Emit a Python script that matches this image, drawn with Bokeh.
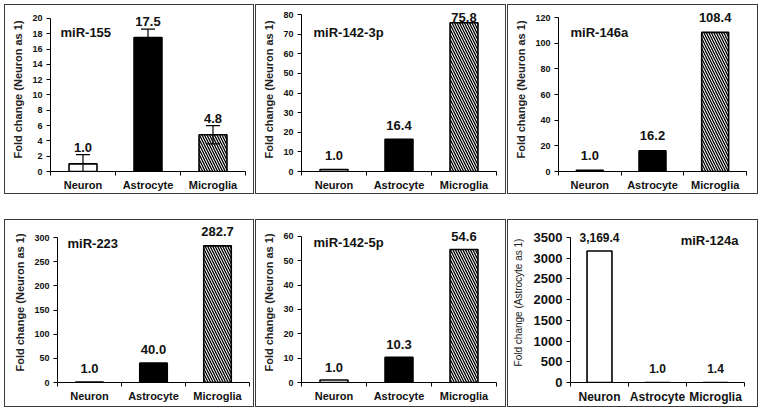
from bokeh.plotting import figure
from bokeh.models import (Range1d, FixedTicker, SingleIntervalTicker, ColumnDataSource,
                          LabelSet, Label, Whisker, TeeHead)
from bokeh.core.properties import value
from bokeh.layouts import row, column
from bokeh.embed import file_html
from bokeh.resources import INLINE

# ---------------- data ----------------
categories = ["Neuron", "Astrocyte", "Microglia"]
titles = ["miR-155", "miR-142-3p", "miR-146a", "miR-223", "miR-142-5p", "miR-124a"]
mir155 = [1.0, 17.5, 4.8]
mir155_err = [1.2, 1.1, 1.2]
mir142_3p = [1.0, 16.4, 75.8]
mir146a = [1.0, 16.2, 108.4]
mir223 = [1.0, 40.0, 282.7]
mir142_5p = [1.0, 10.3, 54.6]
mir124a = [3169.4, 1.0, 1.4]
y_max = [20, 80, 120, 300, 60, 3500]
y_step = [2, 10, 20, 50, 10, 500]
y_titles = ["Fold change (Neuron as 1)"] * 5 + ["Fold change (Astrocyte as 1)"]

series = [mir155, mir142_3p, mir146a, mir223, mir142_5p, mir124a]
errors = [mir155_err, None, None, None, None, None]

# ---------------- style ----------------
FONT = "Liberation Sans"
bar_fill = ["white", "black", "white"]
bar_hatch = [" ", " ", "\\"]

# (width, height, left, right, top(axis top), bottom)
geom = [
    (248, 188, 45, 8, 13, 21),
    (249, 188, 45, 9, 9, 22),
    (249, 188, 50, 11, 12, 22),
    (248, 186, 52, 4, 17, 24),
    (249, 186, 45, 9, 16, 22),
    (249, 186, 62, 13, 17, 22),
]
TOP_PAD = 2
label_off = [16, 14, 15, 14, 13, 14]
# lowest allowed label centre, px below the axis top (None = no limit)
label_ceiling = [None, 3, None, None, None, None]
# title placement: (x_offset, y_offset from axis top, align)
title_pos = [(10, -14, "left"), (12, -18, "left"), (12, -15, "left"),
             (10, -6, "left"), (12, -6, "left"), (-6, -3, "right")]


def make_panel(i):
    vals = series[i]
    w, h, ml, mr, mt, mb = geom[i]
    H = h - mt - mb                       # pixel height of 0..y_max
    extra = mt - TOP_PAD
    y_end = y_max[i] * (H + extra) / H
    xs = [k + 0.5 for k in range(len(categories))]
    fmt = [f"{v:,.1f}" for v in vals]
    yoff = []
    for v in vals:
        off = label_off[i]
        if label_ceiling[i] is not None:
            room = H * (1 - v / y_max[i])  # px between bar top and axis top
            off = min(off, room - label_ceiling[i])
        yoff.append(off)
    data = dict(x=xs, top=vals, fill=bar_fill, hatch=bar_hatch, lab=fmt, yoff=yoff)
    if errors[i] is not None:
        data["upper"] = [v + e for v, e in zip(vals, errors[i])]
        data["lower"] = [v - e for v, e in zip(vals, errors[i])]
    src = ColumnDataSource(data)

    p = figure(width=w, height=h, output_backend="svg", toolbar_location=None,
               x_range=Range1d(0, len(categories)), y_range=Range1d(0, y_end),
               min_border=0, styles={"outline": "1.5px solid #3a3a3a"})
    p.min_border_left = ml
    p.min_border_right = mr
    p.min_border_top = TOP_PAD
    p.min_border_bottom = mb
    p.outline_line_color = None
    p.xgrid.visible = False
    p.ygrid.visible = False
    p.background_fill_color = "white"
    p.border_fill_color = "white"

    p.vbar(x="x", top="top", width=0.43, source=src, fill_color="fill",
           line_color="black", line_width=1.6, hatch_pattern="hatch",
           hatch_color="black", hatch_scale=5, hatch_weight=1.3)

    if errors[i] is not None:
        wk = Whisker(base="x", upper="upper", lower="lower", source=src,
                     line_color="black", line_width=1.2, level="overlay",
                     upper_head=TeeHead(size=14, line_color="black", line_width=1.2),
                     lower_head=TeeHead(size=14, line_color="black", line_width=1.2))
        p.add_layout(wk)

    big = (i == 5)
    ls = LabelSet(x="x", y="top", text="lab", source=src, text_align="center",
                  text_baseline="middle", y_offset="yoff",
                  text_font=value(FONT), text_font_style="bold",
                  text_font_size="12px" if big else "13px", text_color="#111111")
    p.add_layout(ls)

    tx, ty, al = title_pos[i]
    p.add_layout(Label(x=0 if al == "left" else len(categories), y=y_max[i],
                       x_offset=tx, y_offset=ty, text=titles[i], text_align=al,
                       text_baseline="middle", text_font=FONT, text_font_style="bold",
                       text_font_size="13px", text_color="#111111"))

    # x axis: ticks between categories, labels centred
    xa = p.xaxis[0]
    xa.ticker = FixedTicker(ticks=xs, minor_ticks=list(range(len(categories) + 1)))
    xa.major_label_overrides = {x: c for x, c in zip(xs, categories)}
    xa.major_tick_line_color = None
    xa.major_tick_out = 0
    xa.major_tick_in = 0
    xa.minor_tick_out = 4
    xa.minor_tick_in = 0
    xa.minor_tick_line_color = "black"
    xa.axis_line_color = "black"
    xa.major_label_standoff = 3
    xa.major_label_text_font = FONT
    xa.major_label_text_font_style = "bold"
    xa.major_label_text_font_size = "12px" if big else "11px"
    xa.major_label_text_color = "#111111"

    ya = p.yaxis[0]
    ya.bounds = (0, y_max[i])
    ya.ticker = SingleIntervalTicker(interval=y_step[i], num_minor_ticks=0)
    ya.major_tick_out = 4
    ya.major_tick_in = 0
    ya.minor_tick_line_color = None
    ya.axis_line_color = "black"
    ya.major_tick_line_color = "black"
    ya.major_label_standoff = 4
    ya.major_label_text_font = FONT
    ya.major_label_text_font_style = "bold"
    ya.major_label_text_font_size = "13px" if big else "9px"
    ya.major_label_text_color = "#111111"
    ya.axis_label = y_titles[i]
    ya.axis_label_text_font = FONT
    ya.axis_label_text_font_style = "normal" if big else "bold"
    ya.axis_label_text_font_size = "10px" if big else "11px"
    ya.axis_label_text_color = "#222222"
    ya.axis_label_standoff = 7 if big else 5
    return p


panels = [make_panel(i) for i in range(6)]
layout = column(row(panels[0], panels[1], panels[2], spacing=3),
                row(panels[3], panels[4], panels[5], spacing=3),
                spacing=27, margin=(5, 0, 0, 5))

open("out.html", "w").write(file_html(layout, INLINE))
